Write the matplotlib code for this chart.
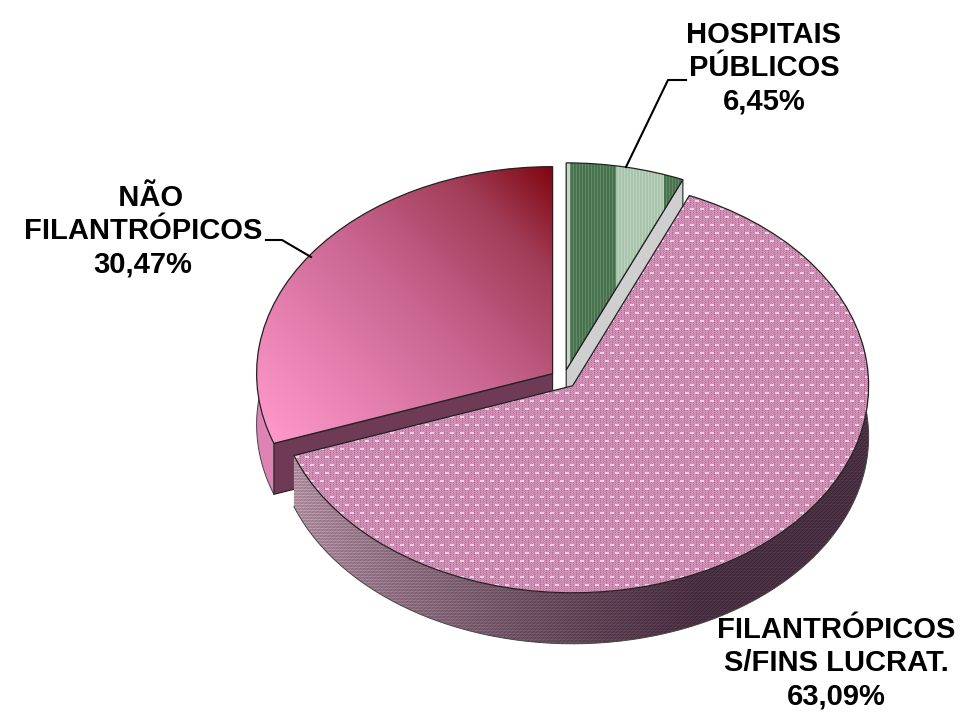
import numpy as np
import matplotlib
matplotlib.use('Agg')
import matplotlib.pyplot as plt
from matplotlib.patches import Polygon

names = ['HOSPITAIS\nPÚBLICOS\n', 'FILANTRÓPICOS\nS/FINS LUCRAT.\n', '  NÃO\nFILANTRÓPICOS\n']
values = [6.45, 63.09, 30.47]

W, H = 961, 715
cx, cy = 563.5, 379.0   # pie centre in pixels
rx, ry = 296.0, 207.0   # pixels per unit radius
depth = 51.0 / ry


def px(x, y):
    return (x - cx) / rx, (cy - y) / ry


def blend(c0, c1, t):
    c0, c1 = np.array(c0, float), np.array(c1, float)
    return c0 + (c1 - c0) * t[..., None]


plt.rcParams['font.family'] = ['Liberation Sans', 'DejaVu Sans']
fig = plt.figure(figsize=(W / 100, H / 100), dpi=100)
ax = fig.add_axes([0, 0, 1, 1])

wedges, _ = ax.pie(values, explode=[0.045] * 3, startangle=90, counterclock=False,
                   radius=1, wedgeprops={'facecolor': 'none', 'edgecolor': '#222222', 'linewidth': 0.9, 'zorder': 20})
ax.set_aspect('auto')

yy, xx = np.mgrid[0:H, 0:W]
extent = (px(0, 0)[0], px(W, 0)[0], px(0, H)[1], px(0, 0)[1])


def show(img, clip, z):
    im = ax.imshow(np.clip(img, 0, 1), extent=extent, origin='upper', aspect='auto',
                   interpolation='nearest', zorder=z)
    im.set_clip_path(clip)


def arc_wall(w, z):
    t = np.radians(np.linspace(w.theta1, w.theta2, 300))
    x = w.center[0] + np.cos(t)
    y = w.center[1] + np.sin(t)
    keep = y < w.center[1] + 0.25
    x, y = x[keep], y[keep]
    pts = np.r_[np.c_[x, y], np.c_[x, y - depth][::-1]]
    p = Polygon(pts, closed=True, facecolor='none', edgecolor='none', zorder=z)
    ax.add_patch(p)
    return p


def radial_wall(w, theta, color, z):
    t = np.radians(theta)
    a = np.array(w.center)
    b = a + [np.cos(t), np.sin(t)]
    pts = [a, b, b - [0, depth], a - [0, depth]]
    ax.add_patch(Polygon(pts, closed=True, facecolor=color, edgecolor='#222222', linewidth=0.8, zorder=z))


green, pink, red = wedges

# green slice, vertical stripes in three bands
radial_wall(green, green.theta1, '#cfcfcf', 1)
stripe = ((xx % 3) == 0).astype(float)
band = (xx >= 616) & (xx < 664)
g_img = np.where(band[..., None], blend((0.66, 0.77, 0.67), (0.74, 0.83, 0.75), stripe),
                 blend((0.29, 0.45, 0.31), (0.38, 0.54, 0.40), stripe))
g_img[xx < 570] = (0.78, 0.85, 0.78)
show(g_img, green, 2)
green.set_zorder(3)

# red slice, diagonal gradient
arc_r = arc_wall(red, 4)
show(np.broadcast_to((0.87, 0.52, 0.71), (H, W, 3)).copy(), arc_r, 4)
radial_wall(red, red.theta2, '#6e3a55', 5)
t = np.clip(((xx - 270) + (440 - yy)) / 557.0, 0, 1)
stops = [0, 0.5, 0.8, 1]
r_img = np.dstack([np.interp(t, stops, [1.0, 0.79, 0.63, 0.50]),
                   np.interp(t, stops, [0.60, 0.40, 0.24, 0.02]),
                   np.interp(t, stops, [0.80, 0.57, 0.34, 0.06])])
show(r_img, red, 6)
red.set_zorder(7)

# pink slice, dotted top and dark textured wall
arc_p = arc_wall(pink, 8)
t = np.clip((xx - 292) / 400.0, 0, 1) ** 0.8
w_img = blend((0.68, 0.55, 0.62), (0.29, 0.19, 0.26), t)
w_img += (((yy % 3) == 0)[..., None] * 0.10 * (1 - t[..., None] * 0.75))
w_img -= (((xx + yy) % 4 == 0)[..., None] * 0.05)
show(w_img, arc_p, 8)

p_img = np.ones((H, W, 3)) * (0.79, 0.53, 0.68)
p_img[(xx + yy) % 2 == 0] = (0.84, 0.60, 0.74)
p_img[(xx % 3 == 0) & (yy % 2 == 0)] = (0.71, 0.42, 0.60)
dots = ((yy % 8) < 2) & (((xx + 5 * ((yy // 8) % 2)) % 10) < 4)
p_img[dots] = (0.93, 0.82, 0.89)
show(p_img, pink, 10)
pink.set_zorder(11)

# outline of the lower rims, under the top faces
for w, z in ((red, 4.5), (pink, 9)):
    t = np.radians(np.linspace(w.theta1, w.theta2, 300))
    x = w.center[0] + np.cos(t)
    y = w.center[1] + np.sin(t) - depth
    keep = y < w.center[1] - depth + 0.25
    ax.plot(x[keep], y[keep], color='#444444', lw=0.7, zorder=z)

# leader lines
for pts in ([(626, 167), (668, 80), (686, 80)], [(266, 240), (282, 240), (311, 257)]):
    d = np.array([px(*p) for p in pts])
    ax.plot(d[:, 0], d[:, 1], color='black', lw=1.5, zorder=30)

label_pos = [(764, 68), (836, 663), (143, 231)]
for name, v, pos in zip(names, values, label_pos):
    s = name + f'{v:.2f}'.replace('.', ',') + '%'
    ax.text(*px(*pos), s, ha='center', va='center', fontsize=21, fontweight='bold',
            color='black', linespacing=1.25, zorder=40)

ax.set_xlim(extent[0], extent[1])
ax.set_ylim(extent[2], extent[3])
ax.axis('off')
fig.savefig('out.png', dpi=100, facecolor='white')
